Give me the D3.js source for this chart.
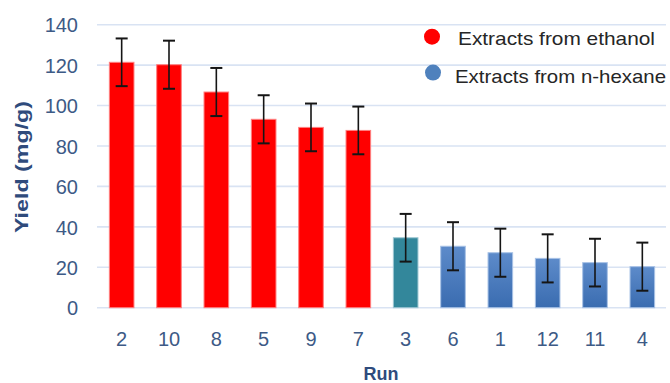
<!DOCTYPE html>
<html>
<head>
<meta charset="utf-8">
<script src="https://cdn.jsdelivr.net/npm/d3@7"></script>
<style>
  html, body { margin: 0; padding: 0; background: #fff; }
  svg { display: block; }
</style>
</head>
<body>
<svg id="chart" width="670" height="383"></svg>
<script>
// Runs ordered by yield, with their extraction solvent
const runs = ["2", "10", "8", "5", "9", "7", "3", "6", "1", "12", "11", "4"];
const solvent = ["ethanol", "ethanol", "ethanol", "ethanol", "ethanol", "ethanol",
                 "hexane", "hexane", "hexane", "hexane", "hexane", "hexane"];
const yieldValues = [121.4, 120.2, 106.7, 93.2, 89.2, 87.7, 34.6, 30.4, 27.2, 24.4, 22.3, 20.3];
const yieldErrors = [11.8, 11.9, 11.9, 11.9, 11.8, 11.8, 11.8, 11.9, 11.9, 11.9, 11.8, 11.9];
const yTicks = [0, 20, 40, 60, 80, 100, 120, 140];
const legendLabels = ["Extracts from ethanol", "Extracts from n-hexane"];

const svg = d3.select("#chart");
const axisColor = "#3d5a86";
const gridColor = "#d9e3f3";

const x = d3.scaleBand().domain(runs).range([98, 666]).paddingInner(0.48).paddingOuter(0.24);
const y = d3.scaleLinear().domain([0, 140]).range([307.7, 24.7]);

// Gradient fill for the n-hexane bars
const defs = svg.append("defs");
const grad = defs.append("linearGradient")
  .attr("id", "hexaneFill").attr("x1", 0).attr("y1", 0).attr("x2", 0).attr("y2", 1);
grad.append("stop").attr("offset", "0%").attr("stop-color", "#5d8bca");
grad.append("stop").attr("offset", "100%").attr("stop-color", "#3a6cb0");

// Horizontal gridlines
svg.append("g").selectAll("line").data(yTicks).join("line")
  .attr("x1", 97).attr("x2", 666)
  .attr("y1", d => y(d)).attr("y2", d => y(d))
  .attr("stroke", gridColor).attr("stroke-width", 1.6);

// Y axis tick labels
const yAxis = d3.axisLeft(y).tickValues(yTicks).tickSize(0).tickPadding(0);
const gy = svg.append("g").attr("transform", "translate(78,0)").call(yAxis);
gy.select(".domain").remove();
gy.selectAll("text")
  .attr("font-family", "Liberation Sans, Arial, sans-serif")
  .attr("font-size", 20).attr("fill", axisColor).attr("dy", "0.36em");

// X axis category labels
const xAxis = d3.axisBottom(x).tickSize(0).tickPadding(0);
const gx = svg.append("g").attr("transform", "translate(0,332)").call(xAxis);
gx.select(".domain").remove();
gx.selectAll("text")
  .attr("font-family", "Liberation Sans, Arial, sans-serif")
  .attr("font-size", 20).attr("fill", axisColor).attr("dy", "0.72em");

// Bars
const fillFor = (d, i) => {
  if (solvent[i] === "ethanol") return "#ff0000";
  return runs[i] === "3" ? "#33879b" : "url(#hexaneFill)";
};
const strokeFor = (d, i) => {
  if (solvent[i] === "ethanol") return "#ff8080";
  return runs[i] === "3" ? "#9cc6d2" : "#a8c2e6";
};
svg.append("g").selectAll("rect").data(yieldValues).join("rect")
  .attr("x", (d, i) => x(runs[i]))
  .attr("y", d => y(d))
  .attr("width", x.bandwidth())
  .attr("height", d => y(0) - y(d))
  .attr("fill", fillFor)
  .attr("stroke", strokeFor)
  .attr("stroke-width", 1);

// Error bars
const eb = svg.append("g").attr("stroke", "#151515").attr("fill", "none");
yieldValues.forEach((v, i) => {
  const cx = x(runs[i]) + x.bandwidth() / 2;
  const hi = y(v + yieldErrors[i]);
  const lo = y(v - yieldErrors[i]);
  eb.append("line").attr("x1", cx).attr("x2", cx).attr("y1", hi).attr("y2", lo).attr("stroke-width", 1.6);
  eb.append("line").attr("x1", cx - 6).attr("x2", cx + 6).attr("y1", hi).attr("y2", hi).attr("stroke-width", 2);
  eb.append("line").attr("x1", cx - 6).attr("x2", cx + 6).attr("y1", lo).attr("y2", lo).attr("stroke-width", 2);
});

// Axis titles
svg.append("text")
  .attr("transform", "translate(28,167) rotate(-90)")
  .attr("text-anchor", "middle")
  .attr("font-family", "Liberation Sans, Arial, sans-serif")
  .attr("font-weight", "bold").attr("font-size", 19)
  .attr("fill", "#2f4b7c")
  .attr("textLength", 132).attr("lengthAdjust", "spacingAndGlyphs")
  .text("Yield (mg/g)");

svg.append("text")
  .attr("x", 381).attr("y", 380)
  .attr("text-anchor", "middle")
  .attr("font-family", "Liberation Sans, Arial, sans-serif")
  .attr("font-weight", "bold").attr("font-size", 19)
  .attr("fill", "#2f4b7c")
  .attr("textLength", 35).attr("lengthAdjust", "spacingAndGlyphs")
  .text("Run");

// Legend
const legend = [
  { label: legendLabels[0], color: "#ff0000", cx: 432, cy: 36.7, tx: 458, ty: 45, w: 197 },
  { label: legendLabels[1], color: "#4f81bd", cx: 433, cy: 72.6, tx: 455, ty: 83, w: 211 }
];
const lg = svg.append("g");
lg.selectAll("circle").data(legend).join("circle")
  .attr("cx", d => d.cx).attr("cy", d => d.cy).attr("r", 8)
  .attr("fill", d => d.color);
lg.selectAll("text").data(legend).join("text")
  .attr("x", d => d.tx).attr("y", d => d.ty)
  .attr("font-family", "Liberation Sans, Arial, sans-serif")
  .attr("font-size", 19).attr("fill", "#262626")
  .attr("textLength", d => d.w).attr("lengthAdjust", "spacingAndGlyphs")
  .text(d => d.label);
</script>
</body>
</html>
